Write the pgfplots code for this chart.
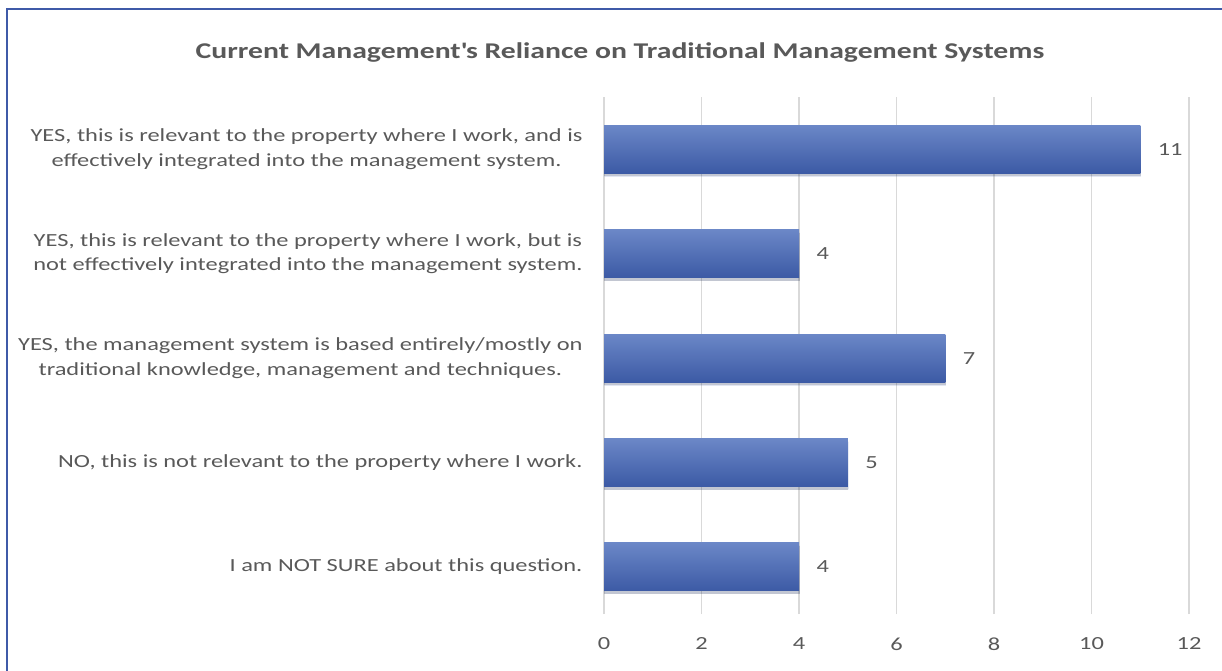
\documentclass[border=0pt]{standalone}
\usepackage{fontspec}
\setmainfont{Carlito}[FakeStretch=1.32]
\usepackage{pgfplots}
\pgfplotsset{compat=1.18}
\usetikzlibrary{shadows}
\definecolor{txt}{HTML}{595959}
\definecolor{grd}{HTML}{D9D9D9}
\definecolor{bartop}{HTML}{6B87C7}
\definecolor{barbot}{HTML}{3C5AA5}
\definecolor{frame}{HTML}{3F5AA8}
\begin{document}
\begin{tikzpicture}
\useasboundingbox (0,0) rectangle (1222bp,671bp);
\draw[frame, line width=2bp] (7bp,0) -- (7bp,662bp) -- (1224bp,662bp);
\node[font=\fontsize{22.5bp}{26bp}\selectfont\bfseries, text=txt] at (620bp,618bp) {Current Management\textquotesingle s Reliance on Traditional Management Systems};
\begin{axis}[
  at={(604bp,57bp)}, anchor=south west,
  scale only axis,
  width=585bp, height=517bp,
  xbar, bar width=48bp, bar shift=0pt,
  xmin=0, xmax=12, xtick={0,2,...,12},
  ymin=-0.45, ymax=4.5,
  ytick={0,1,2,3,4},
  yticklabels={
    {I am NOT SURE about this question.},
    {NO, this is not relevant to the property where I work.},
    {YES, the management system is based entirely/mostly on\\traditional knowledge, management and techniques.},
    {YES, this is relevant to the property where I work, but is\\not effectively integrated into the management system.},
    {YES, this is relevant to the property where I work, and is\\effectively integrated into the management system.}},
  yticklabel style={align=center, anchor=east, xshift=-18bp, font=\fontsize{18.5bp}{24.5bp}\selectfont, text=txt},
  xticklabel style={font=\fontsize{18.5bp}{22bp}\selectfont, text=txt, yshift=-20bp},
  /pgf/number format/assume math mode=true,
  axis line style={draw=none},
  major tick length=0pt,
  xmajorgrids, major grid style={grd, line width=1.5bp},
  nodes near coords,
  nodes near coords style={font=\fontsize{18.5bp}{22bp}\selectfont, text=txt, anchor=west, xshift=14bp},
  every axis plot/.append style={draw=none, top color=bartop, bottom color=barbot,
     drop shadow={shadow xshift=0.5bp, shadow yshift=-3bp, opacity=0.15, fill=black}},
]
\addplot coordinates {(4,0)};
\addplot coordinates {(5,1)};
\addplot coordinates {(7,2)};
\addplot coordinates {(4,3)};
\addplot coordinates {(11,4)};
\end{axis}
\end{tikzpicture}
\end{document}
